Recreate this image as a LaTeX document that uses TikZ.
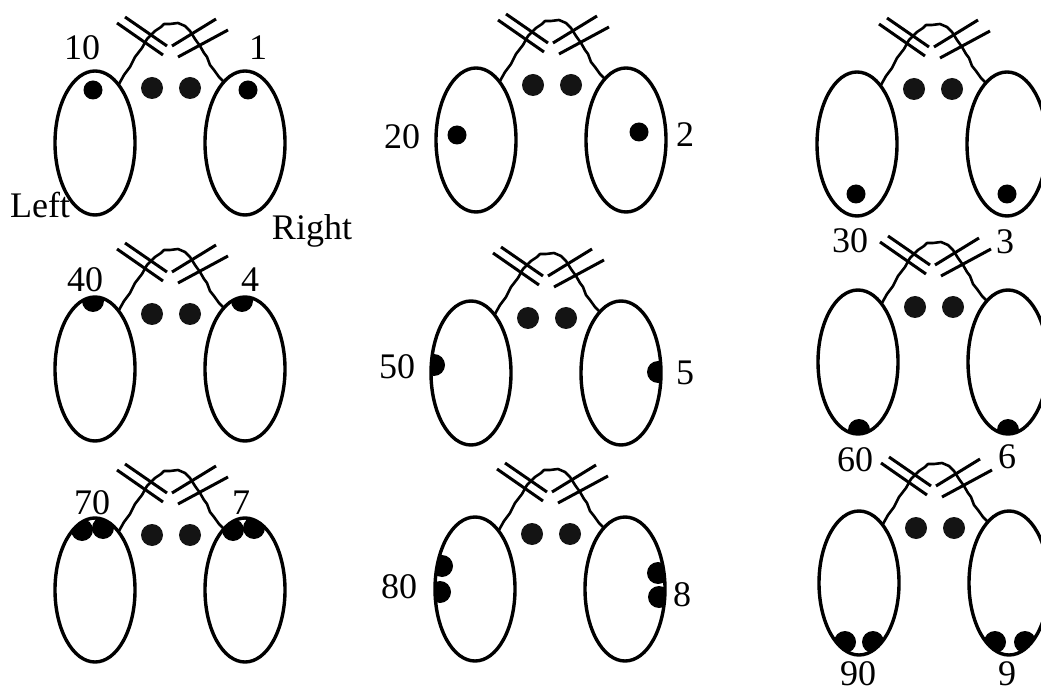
\documentclass[tikz,border=0pt]{standalone}
\usepackage{fontspec}
\setmainfont{Liberation Serif}

\tikzset{
  eye/.style={line width=3.4pt},
  crown/.style={line width=2.6pt,line join=round},
  antenna/.style={line width=3pt},
  spot/.style={fill=black},
  pore/.style={fill=black!92},
  num/.style={font=\fontsize{36}{40}\selectfont,inner sep=0pt}
}

\newcommand{\headunit}[3]{%
  \begin{scope}[shift={(#2,#3)}]
    \coordinate (#1L) at (-75,0);
    \coordinate (#1R) at (75,0);
    \draw[eye] (#1L) ellipse (40 and 72);
    \draw[eye] (#1R) ellipse (40 and 72);
    \draw[crown] (-51,-59) -- (-46,-68) -- (-40,-76) -- (-35,-86) -- (-28,-95)
      -- (-23,-104) -- (-15,-112) -- (-9,-116) -- (-6,-119) -- (0,-119) -- (8,-120)
      -- (15,-117) -- (20,-112) -- (25,-104) -- (30,-97) -- (34,-90) -- (37,-86)
      -- (40,-78) -- (44,-73) -- (49,-66) -- (54,-61);
    \draw[antenna] (-53,-120) -- (-7,-88) (-45,-126) -- (-3,-97);
    \draw[antenna] (2,-97) -- (46,-124) (8,-86) -- (58,-113);
    \fill[pore] (-18,-55) circle (11) (20,-55) circle (11);
  \end{scope}}

\newcommand{\halfspot}[2]{%
  \begin{scope}
    \clip (#1) ellipse (40 and 72);
    \fill[spot] ([shift={#2}]#1) circle (11);
  \end{scope}}

\begin{document}
\begin{tikzpicture}[x=1pt,y=-1pt]
  \useasboundingbox (0,0) rectangle (1041,692);

  \headunit{a}{170}{143}
  \headunit{b}{551}{140}
  \headunit{c}{932}{144}
  \headunit{d}{170}{369}
  \headunit{e}{546}{373}
  \headunit{f}{933}{362}
  \headunit{g}{170}{590}
  \headunit{h}{550}{589}
  \headunit{i}{934}{583}

  \fill[spot] ([shift={(-2,-53)}]aL) circle (9.5);
  \fill[spot] ([shift={(3,-53)}]aR) circle (9.5);
  \fill[spot] ([shift={(-19,-5)}]bL) circle (9.5);
  \fill[spot] ([shift={(13,-8)}]bR) circle (9.5);
  \fill[spot] ([shift={(-1,50)}]cL) circle (9.5);
  \fill[spot] ([shift={(0,50)}]cR) circle (9.5);

  \halfspot{dL}{(-2,-68)}
  \halfspot{dR}{(-3,-68)}
  \halfspot{eL}{(-37,-8)}
  \halfspot{eR}{(37,-1)}
  \halfspot{fL}{(1,68)}
  \halfspot{fR}{(0,68)}
  \halfspot{gL}{(-13,-60)}
  \halfspot{gL}{(8,-62)}
  \halfspot{gR}{(-12,-60)}
  \halfspot{gR}{(9,-62)}
  \halfspot{hL}{(-33,-23)}
  \halfspot{hL}{(-35,3)}
  \halfspot{hR}{(33,-16)}
  \halfspot{hR}{(34,8)}
  \halfspot{iL}{(-14,59)}
  \halfspot{iL}{(14,59)}
  \halfspot{iR}{(-14,59)}
  \halfspot{iR}{(16,59)}

  \node[num] (n10) at (82,48) {10};
  \node[num] (n1) at (258,48) {1};
  \node[num,anchor=base] (left) at (40,218) {Left};
  \node[num,anchor=base] (right) at (312,240) {Right};
  \node[num] (n20) at (402,137) {20};
  \node[num] (n2) at (685,135) {2};
  \node[num] (n30) at (850,241) {30};
  \node[num] (n3) at (1005,242) {3};
  \node[num] (n40) at (85,280) {40};
  \node[num] (n4) at (250,280) {4};
  \node[num] (n50) at (397,367) {50};
  \node[num] (n5) at (685,373) {5};
  \node[num] (n60) at (855,460) {60};
  \node[num] (n6) at (1007,457) {6};
  \node[num] (n70) at (92,503) {70};
  \node[num] (n7) at (241,503) {7};
  \node[num] (n80) at (399,587) {80};
  \node[num] (n8) at (682,595) {8};
  \node[num] (n90) at (858,674) {90};
  \node[num] (n9) at (1007,674) {9};
\end{tikzpicture}
\end{document}
